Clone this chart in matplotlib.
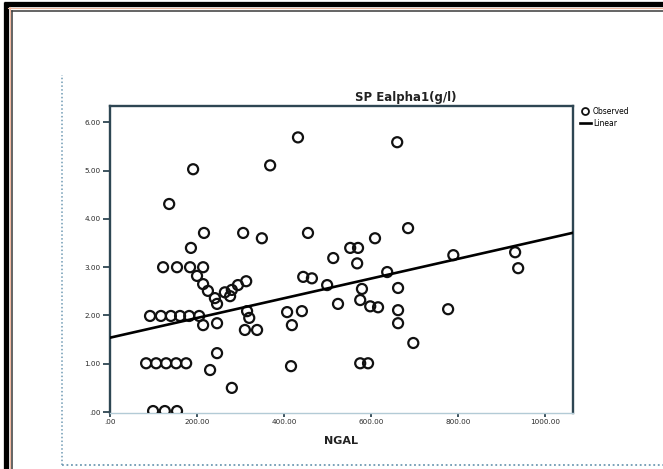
import matplotlib
matplotlib.use("Agg")
import matplotlib.pyplot as plt
from matplotlib.lines import Line2D
import numpy as np

# ---- data ----
ngal = [432, 660, 191, 368, 136, 216, 306, 349, 455, 685, 609, 186, 552, 570,
        513, 789, 931, 938, 568, 122, 154, 184, 214, 200, 214, 225, 241, 264,
        280, 294, 313, 246, 276, 444, 464, 637, 499, 579, 662, 524, 575, 598,
        616, 662, 662, 777, 697, 407, 441, 418, 315, 320, 310, 338, 214, 246,
        92, 117, 140, 161, 182, 205, 246, 230, 280, 416, 575, 593,
        83, 106, 129, 152, 175, 99, 126, 154]
alpha1 = [5.69, 5.59, 5.03, 5.11, 4.31, 3.71, 3.71, 3.60, 3.71, 3.81, 3.60, 3.40, 3.40, 3.40,
          3.19, 3.25, 3.31, 2.98, 3.08, 3.00, 3.00, 3.00, 3.00, 2.82, 2.65, 2.51, 2.36, 2.48,
          2.53, 2.63, 2.71, 2.24, 2.40, 2.80, 2.77, 2.90, 2.63, 2.55, 2.57, 2.24, 2.32, 2.19,
          2.17, 2.11, 1.84, 2.13, 1.43, 2.07, 2.09, 1.80, 2.09, 1.95, 1.70, 1.70, 1.80, 1.84,
          1.99, 1.99, 1.99, 1.99, 1.99, 1.99, 1.22, 0.87, 0.50, 0.95, 1.01, 1.01,
          1.01, 1.01, 1.01, 1.01, 1.01, 0.02, 0.02, 0.02]
fit_intercept = 1.54
fit_slope = 0.002043
x_ticks = [0, 200, 400, 600, 800, 1000]
x_tick_labels = [".00", "200.00", "400.00", "600.00", "800.00", "1000.00"]
y_ticks = [0, 1, 2, 3, 4, 5, 6]
y_tick_labels = [".00", "1.00", "2.00", "3.00", "4.00", "5.00", "6.00"]
title_text = "SP Ealpha1(g/l)"
x_label = "NGAL"
legend_labels = ["Observed", "Linear"]

W, H = 663, 469
fig = plt.figure(figsize=(W / 100, H / 100), dpi=100)
fig.patch.set_facecolor("white")

def fx(p):
    return p / W

def fy(p):
    return 1 - p / H

ax = fig.add_axes([fx(110), fy(412.5), fx(573) - fx(110), fy(106.5) - fy(412.5)])
xmin, xmax = 0, 1064
ymin, ymax = -0.01, 6.33
ax.set_xlim(xmin, xmax)
ax.set_ylim(ymin, ymax)

spine_col = "#2e4653"
for s in ["left", "top", "right"]:
    ax.spines[s].set_color(spine_col)
    ax.spines[s].set_linewidth(1.7)
ax.spines["bottom"].set_color("#b3cbd6")
ax.spines["bottom"].set_linewidth(1.0)

ax.scatter(ngal, alpha1, s=52, facecolors="none", edgecolors="#111111",
           linewidths=1.6, zorder=3, label=legend_labels[0])
xs = np.array([xmin, xmax])
ax.plot(xs, fit_intercept + fit_slope * xs, color="black", lw=1.9, zorder=4,
        label=legend_labels[1])

ax.set_xticks(x_ticks)
ax.set_xticklabels(x_tick_labels)
ax.set_yticks(y_ticks)
ax.set_yticklabels(y_tick_labels)
ax.tick_params(axis="y", length=5, width=1.3, color=spine_col, labelsize=5.2,
               labelcolor="#2a2a2a", pad=2)
ax.tick_params(axis="x", length=3, width=1.3, color=spine_col, labelsize=5.2,
               labelcolor="#2a2a2a", pad=2)

fig.text(fx(406), fy(97), title_text, ha="center", va="center", fontsize=8.5,
         fontweight="bold", color="#222222")
fig.text(fx(341), fy(441), x_label, ha="center", va="center", fontsize=8,
         fontweight="bold", color="#222222")

handles = [Line2D([], [], marker="o", ls="none", mfc="none", mec="#111111", mew=1.3, ms=5),
           Line2D([], [], color="black", lw=1.9)]
fig.legend(handles, legend_labels, loc="upper left",
           bbox_to_anchor=(fx(580), fy(107)), frameon=False, fontsize=5.5,
           handlelength=1.4, handletextpad=0.3, labelspacing=0.35,
           borderaxespad=0, borderpad=0)

# page decorations: scanned border and dotted selection box
fig.add_artist(Line2D([fx(5.5), fx(5.5)], [0, fy(2)], color="black", lw=3.8,
                      solid_capstyle="butt"))
fig.add_artist(Line2D([fx(3.5), 1], [fy(4.5), fy(4.5)], color="black", lw=3.8,
                      solid_capstyle="butt"))
fig.add_artist(Line2D([fx(9.5), fx(9.5)], [0, fy(7)], color="#f0b8a0", lw=0.8))
fig.add_artist(Line2D([fx(8), 1], [fy(8), fy(8)], color="#f0b8a0", lw=0.8))
fig.add_artist(Line2D([fx(12), fx(12)], [0, fy(11)], color="#3a3a3a", lw=1.1))
fig.add_artist(Line2D([fx(12), 1], [fy(11), fy(11)], color="#3a3a3a", lw=1.1))
fig.add_artist(Line2D([fx(62), fx(62)], [fy(465), fy(75)], color="#6f9ab3",
                      lw=1.1, ls=(0, (1, 1.5))))
fig.add_artist(Line2D([fx(62), 1], [fy(465), fy(465)], color="#6f9ab3",
                      lw=1.3, ls=(0, (1, 1.5))))

fig.savefig("out.png", dpi=100, facecolor="white")
